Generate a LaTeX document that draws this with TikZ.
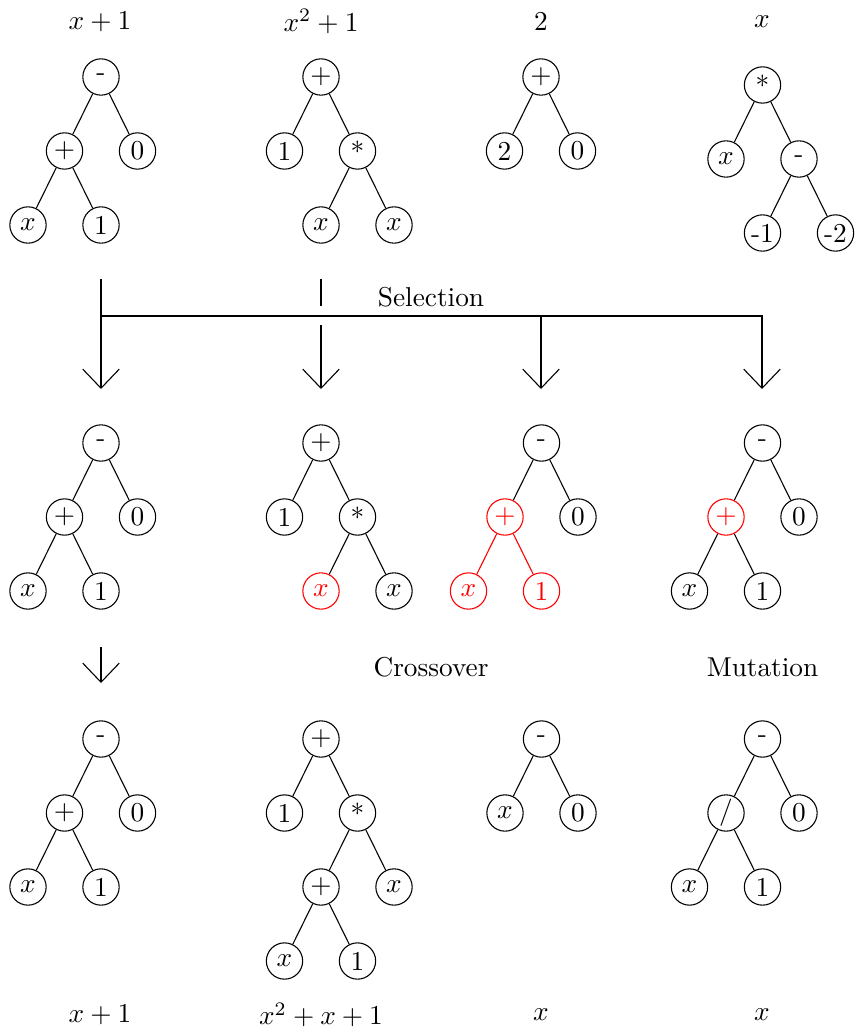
\documentclass[tikz,border=0pt]{standalone}
\usetikzlibrary{arrows.meta}
\begin{document}
\begin{tikzpicture}[x=0.3663pt,y=-0.3663pt,
  tn/.style={circle,draw,minimum size=13.3pt,inner sep=0.5pt,line width=0.4pt},
  hn/.style={tn,draw=red,text=red},
  redge/.style={draw=red},
  sel/.style={-{Straight Barb[length=7pt,width=13.4pt]},line width=0.4pt},
  lbl/.style={inner sep=0pt}
]
\useasboundingbox (0,0) rectangle (859,1028);

% ---------- top labels ----------
\node[lbl] (t1) at (100,21.6) {$x+1$};
\node[lbl] (t2) at (321,21.6) {$x^2+1$};
\node[lbl] (t3) at (541,21.6) {$2$};
\node[lbl] (t4) at (762,21.6) {$x$};

% ---------- row 1 ----------
\node[tn] (a1) at (101,77) {-};
\node[tn] (a2) at (64.5,151) {+};
\node[tn] (a3) at (137.5,151) {0};
\node[tn] (a4) at (28,225) {$x$};
\node[tn] (a5) at (101,225) {1};
\draw (a1)--(a2) (a1)--(a3) (a2)--(a4) (a2)--(a5);

\node[tn] (b1) at (321,77) {+};
\node[tn] (b2) at (284.5,151) {1};
\node[tn] (b3) at (357.5,151) {*};
\node[tn] (b4) at (321,225) {$x$};
\node[tn] (b5) at (394,225) {$x$};
\draw (b1)--(b2) (b1)--(b3) (b3)--(b4) (b3)--(b5);

\node[tn] (c1) at (541,77) {+};
\node[tn] (c2) at (504.5,151) {2};
\node[tn] (c3) at (577.5,151) {0};
\draw (c1)--(c2) (c1)--(c3);

\node[tn] (d1) at (762.5,85) {*};
\node[tn] (d2) at (726,159) {$x$};
\node[tn] (d3) at (799,159) {-};
\node[tn] (d4) at (762.5,233) {-1};
\node[tn] (d5) at (835.5,233) {-2};
\draw (d1)--(d2) (d1)--(d3) (d3)--(d4) (d3)--(d5);

% ---------- selection ----------
\coordinate (s1top) at (101,279);
\coordinate (s1tip) at (101,389);
\coordinate (s2top) at (321,279);
\coordinate (s2mid) at (321,306);
\coordinate (s2low) at (321,325);
\coordinate (s2tip) at (321,389);
\coordinate (hl) at (101,316);
\coordinate (hr) at (762,316);
\coordinate (s3) at (541,316);
\coordinate (s3tip) at (541,389);
\coordinate (s4tip) at (762,389);
\draw[sel] (s1top)--(s1tip);
\draw (s2top)--(s2mid);
\draw[sel] (s2low)--(s2tip);
\draw[sel] (hl)--(hr)--(s4tip);
\draw[sel] (s3)--(s3tip);
\node[lbl,anchor=base] (selt) at (431,306.5) {Selection};

% ---------- row 2 ----------
\node[tn] (e1) at (101,443) {-};
\node[tn] (e2) at (64.5,517) {+};
\node[tn] (e3) at (137.5,517) {0};
\node[tn] (e4) at (28,591) {$x$};
\node[tn] (e5) at (101,591) {1};
\draw (e1)--(e2) (e1)--(e3) (e2)--(e4) (e2)--(e5);

\node[tn] (f1) at (321,443) {+};
\node[tn] (f2) at (284.5,517) {1};
\node[tn] (f3) at (357.5,517) {*};
\node[hn] (f4) at (321,591) {$x$};
\node[tn] (f5) at (394,591) {$x$};
\draw (f1)--(f2) (f1)--(f3) (f3)--(f4) (f3)--(f5);

\node[tn] (g1) at (541.5,443) {-};
\node[hn] (g2) at (505,517) {+};
\node[tn] (g3) at (578,517) {0};
\node[hn] (g4) at (468.5,591) {$x$};
\node[hn] (g5) at (541.5,591) {1};
\draw (g1)--(g2) (g1)--(g3);
\draw[redge] (g2)--(g4) (g2)--(g5);

\node[tn] (h1) at (762.5,443) {-};
\node[hn] (h2) at (726,517) {+};
\node[tn] (h3) at (799,517) {0};
\node[tn] (h4) at (689.5,591) {$x$};
\node[tn] (h5) at (762.5,591) {1};
\draw (h1)--(h2) (h1)--(h3) (h2)--(h4) (h2)--(h5);

% ---------- operators ----------
\coordinate (cotop) at (101,647);
\coordinate (cotip) at (101,683);
\draw[sel] (cotop)--(cotip);
\node[lbl,anchor=base] (cross) at (431,676) {Crossover};
\node[lbl,anchor=base] (mut) at (762.5,676) {Mutation};

% ---------- row 3 ----------
\node[tn] (i1) at (101,739) {-};
\node[tn] (i2) at (64.5,813) {+};
\node[tn] (i3) at (137.5,813) {0};
\node[tn] (i4) at (28,887) {$x$};
\node[tn] (i5) at (101,887) {1};
\draw (i1)--(i2) (i1)--(i3) (i2)--(i4) (i2)--(i5);

\node[tn] (j1) at (321,739) {+};
\node[tn] (j2) at (284.5,813) {1};
\node[tn] (j3) at (357.5,813) {*};
\node[tn] (j4) at (321,887) {+};
\node[tn] (j5) at (394,887) {$x$};
\node[tn] (j6) at (284.5,961) {$x$};
\node[tn] (j7) at (357.5,961) {1};
\draw (j1)--(j2) (j1)--(j3) (j3)--(j4) (j3)--(j5) (j4)--(j6) (j4)--(j7);

\node[tn] (k1) at (541.5,739) {-};
\node[tn] (k2) at (505,813) {$x$};
\node[tn] (k3) at (578,813) {0};
\draw (k1)--(k2) (k1)--(k3);

\node[tn] (l1) at (762.5,739) {-};
\node[tn] (l2) at (726,813) {/};
\node[tn] (l3) at (799,813) {0};
\node[tn] (l4) at (689.5,887) {$x$};
\node[tn] (l5) at (762.5,887) {1};
\draw (l1)--(l2) (l1)--(l3) (l2)--(l4) (l2)--(l5);

% ---------- bottom labels ----------
\node[lbl] (u1) at (100,1015) {$x+1$};
\node[lbl] (u2) at (321,1015) {$x^2+x+1$};
\node[lbl] (u3) at (541,1015) {$x$};
\node[lbl] (u4) at (762,1015) {$x$};
\end{tikzpicture}
\end{document}
